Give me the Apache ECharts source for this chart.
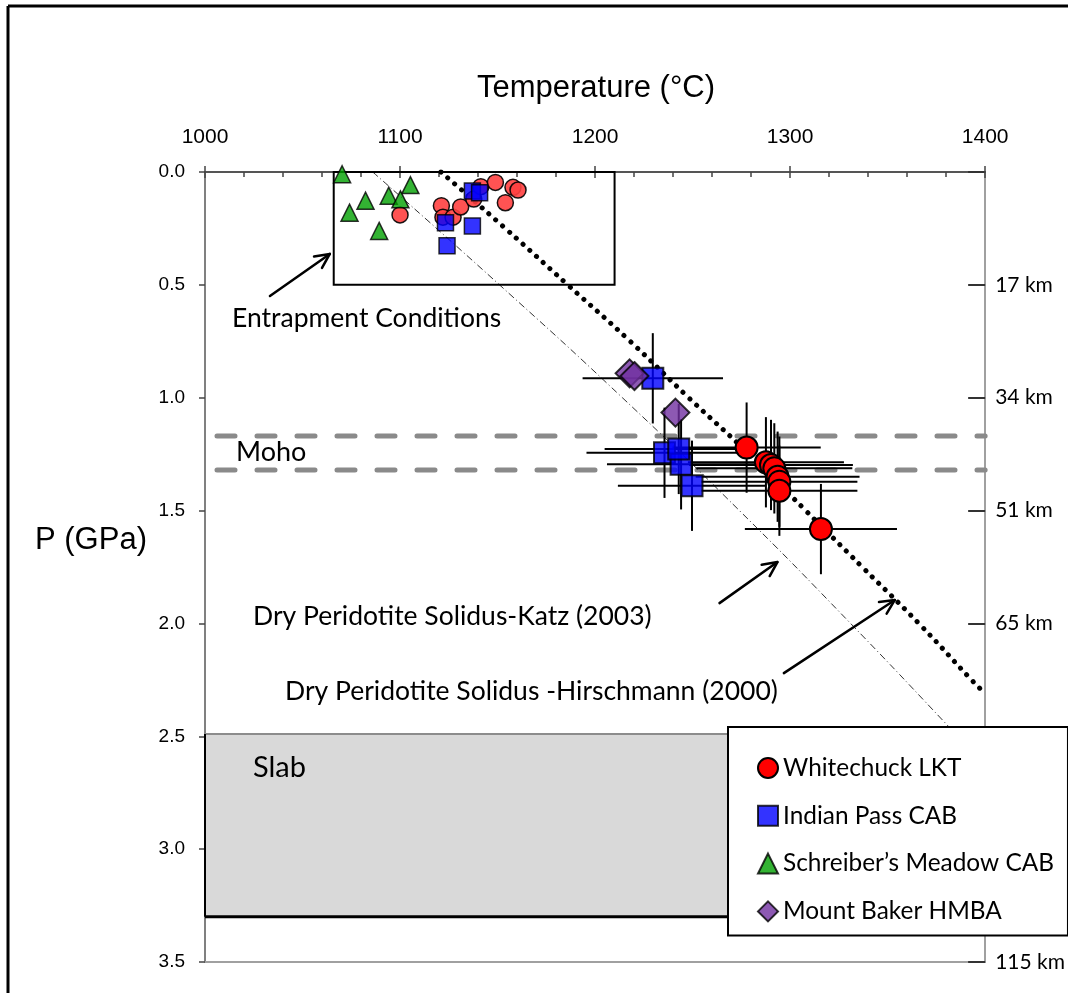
<!DOCTYPE html>
<html><head><meta charset="utf-8">
<script src="https://cdn.jsdelivr.net/npm/echarts@6/dist/echarts.min.js"></script>
<style>html,body{margin:0;padding:0;background:#fff}#c{width:1068px;height:993px}</style>
</head><body><div id="c"></div>
<script>
// ---------- data ----------
const xTicks = [1000, 1100, 1200, 1300, 1400];
const pTicks = [0, 0.5, 1.0, 1.5, 2.0, 2.5, 3.0, 3.5];
const depthP = [0.5, 1.0, 1.5, 2.0, 3.5];
const depthKm = ['17 km', '34 km', '51 km', '65 km', '115 km'];

// Whitechuck LKT (entrapment, shallow)
const whitechuckShallow = [[1100.0,0.19],[1121.2,0.149],[1122.0,0.20],[1127.2,0.20],[1131.1,0.155],[1137.8,0.12],[1141.4,0.065],[1148.9,0.046],[1154.0,0.136],[1157.9,0.068],[1160.5,0.080]];
// Whitechuck LKT (deep)  [T, P]
const whitechuckDeep = [[1277.7,1.221],[1287.6,1.286],[1290.2,1.298],[1291.9,1.313],[1293.6,1.350],[1294.5,1.372],[1294.5,1.412],[1315.8,1.582]];
const whitechuckErr = [[38,0.2],[40,0.2],[42,0.2],[40,0.2],[42,0.2],[40,0.2],[40,0.2],[39,0.2]];
// Indian Pass CAB
const indianShallow = [[1137.1,0.084],[1140.8,0.092],[1123.3,0.225],[1137.1,0.239],[1124.1,0.327]];
const indianDeep = [[1229.6,0.914],[1235.6,1.244],[1244.1,1.295],[1242.9,1.227],[1249.7,1.390]];
const indianErr = [[36,0.2],[40,0.2],[38,0.2],[38,0.2],[38,0.2]];
// Schreiber's Meadow CAB
const schreiber = [[1070.3,0.01],[1105.3,0.058],[1082.3,0.127],[1094.2,0.105],[1100.2,0.121],[1074.1,0.180],[1089.3,0.261]];
// Mount Baker HMBA
const baker = [[1217.7,0.892],[1220.2,0.904],[1241.2,1.066]];

// solidus curves
const hirschP = [0, 0.25, 0.5, 0.75, 1.0, 1.25, 1.5, 1.75, 2.0, 2.25, 2.31];
const hirschT = [1121, 1154, 1186, 1218, 1248, 1279, 1308, 1337, 1366, 1393, 1400];
const katzP = [0, 0.5, 1.0, 1.5, 2.0, 2.5, 2.63];
const katzT = [1086, 1151, 1214, 1274, 1331, 1386, 1400];

const mohoP = [1.17, 1.32];
const entrapBox = [1066, 1210, 0, 0.5];   // Tmin, Tmax, Pmin, Pmax
const slabBox = [1000, 1400, 2.49, 3.30];
// arrows: [T1, P1, T2, P2] (tail -> head)
const arrows = [[1033.3,0.549,1064,0.363],[1263.8,1.91,1293.5,1.728],[1296.8,2.22,1353.7,1.896]];

// ---------- chart ----------
const chart = echarts.init(document.getElementById('c'));
const SANS = '"Liberation Sans", Arial, sans-serif';
const CAL = 'Lato, "Open Sans", sans-serif';

function pairs(ts, ps){ return ts.map((t,i)=>[t, ps[i]]); }
function withErr(pts, err){ return pts.map((p,i)=>[p[0],p[1],err[i][0],err[i][1]]); }

function errRender(params, api){
  const T=api.value(0), P=api.value(1), dT=api.value(2), dP=api.value(3);
  const a=api.coord([T-dT,P]), b=api.coord([T+dT,P]), c=api.coord([T,P-dP]), d=api.coord([T,P+dP]);
  const st={stroke:'#000', lineWidth:2};
  return {type:'group', children:[
    {type:'line', shape:{x1:a[0],y1:a[1],x2:b[0],y2:b[1]}, style:st},
    {type:'line', shape:{x1:c[0],y1:c[1],x2:d[0],y2:d[1]}, style:st}
  ]};
}
function arrowRender(params, api){
  const p1=api.coord([api.value(0),api.value(1)]), p2=api.coord([api.value(2),api.value(3)]);
  const ang=Math.atan2(p2[1]-p1[1], p2[0]-p1[0]);
  const L=16, w=0.45;
  const h1=[p2[0]-L*Math.cos(ang-w), p2[1]-L*Math.sin(ang-w)];
  const h2=[p2[0]-L*Math.cos(ang+w), p2[1]-L*Math.sin(ang+w)];
  const st={stroke:'#000', lineWidth:2.5, lineCap:'round', lineJoin:'round', fill:null};
  return {type:'group', children:[
    {type:'line', shape:{x1:p1[0],y1:p1[1],x2:p2[0],y2:p2[1]}, style:st},
    {type:'polyline', shape:{points:[h1,p2,h2]}, style:st}
  ]};
}
function slabRender(params, api){
  const a=api.coord([api.value(0),api.value(2)]), b=api.coord([api.value(1),api.value(3)]);
  return {type:'group', children:[
    {type:'rect', shape:{x:a[0],y:a[1],width:b[0]-a[0],height:b[1]-a[1]}, style:{fill:'#d9d9d9'}},
    {type:'line', shape:{x1:a[0],y1:a[1],x2:b[0],y2:a[1]}, style:{stroke:'#8c8c8c',lineWidth:2}},
    {type:'line', shape:{x1:a[0],y1:b[1],x2:b[0],y2:b[1]}, style:{stroke:'#000',lineWidth:3}},
    {type:'line', shape:{x1:a[0],y1:a[1],x2:a[0],y2:b[1]}, style:{stroke:'#000',lineWidth:2}}
  ]};
}
function boxRender(params, api){
  const a=api.coord([api.value(0),api.value(2)]), b=api.coord([api.value(1),api.value(3)]);
  return {type:'rect', shape:{x:a[0],y:a[1],width:b[0]-a[0],height:b[1]-a[1]}, style:{fill:null, stroke:'#000', lineWidth:2}};
}

const depthMap = {};
depthP.forEach((p,i)=>{ depthMap[p.toFixed(1)] = depthKm[i]; });

const option = {
  animation:false,
  backgroundColor:'#fff',
  grid:{left:205, top:172, width:781, height:790, containLabel:false},
  xAxis:[
    {type:'value', position:'top', min:xTicks[0], max:xTicks[xTicks.length-1], interval:100,
     axisLine:{show:true, lineStyle:{color:'#555', width:2}},
     axisTick:{show:true, inside:true, length:6, lineStyle:{color:'#444', width:1.5}},
     minorTick:{show:true, splitNumber:5, length:5, lineStyle:{color:'#444', width:1.5}},
     splitLine:{show:false},
     axisLabel:{margin:24, fontSize:21, fontFamily:SANS, color:'#000', formatter:v=>String(v)}},
    {type:'value', position:'top', min:1000, max:1400, interval:100,
     axisLine:{show:false}, axisTick:{show:true, inside:false, length:6, lineStyle:{color:'#444', width:1.5}},
     axisLabel:{show:false}, splitLine:{show:false}},
    {type:'value', position:'bottom', min:1000, max:1400, interval:100,
     axisLine:{show:true, lineStyle:{color:'#a0a0a0', width:2}}, axisTick:{show:false},
     axisLabel:{show:false}, splitLine:{show:false}}
  ],
  yAxis:[
    {type:'value', inverse:true, position:'left', min:pTicks[0], max:pTicks[pTicks.length-1], interval:0.5,
     axisLine:{show:true, lineStyle:{color:'#808080', width:2}},
     axisTick:{show:true, inside:false, length:6, lineStyle:{color:'#444', width:1.5}},
     splitLine:{show:false},
     axisLabel:{margin:20, fontSize:19, fontFamily:SANS, color:'#000', formatter:v=>v.toFixed(1)}},
    {type:'value', inverse:true, position:'right', min:0, max:3.5, interval:0.5,
     axisLine:{show:true, lineStyle:{color:'#a0a0a0', width:2}},
     axisTick:{show:true, inside:true, length:17, lineStyle:{color:'#333', width:2}},
     splitLine:{show:false},
     axisLabel:{margin:10, fontSize:21, fontFamily:CAL, color:'#000', formatter:v=>depthMap[v.toFixed(1)]||''}}
  ],
  legend:{
    orient:'vertical', left:728, top:727,
    data:['Whitechuck LKT','Indian Pass CAB','Schreiber\u2019s Meadow CAB','Mount Baker HMBA'],
    backgroundColor:'#fff', borderColor:'#000', borderWidth:2, borderRadius:0,
    padding:[29,14,12,29], itemGap:23.8, itemWidth:20, itemHeight:20,
    textStyle:{fontFamily:CAL, fontSize:24.4, color:'#000'},
    selectedMode:false
  },
  series:[
    {type:'custom', name:'slab', renderItem:slabRender, data:[slabBox], encode:{x:[0,1], y:[2,3]}, z:1, silent:true},
    {type:'line', name:'moho1', data:[[1000,mohoP[0]],[1400,mohoP[0]]], showSymbol:false, symbol:'none', z:2, silent:true,
     lineStyle:{color:'#8a8a8a', width:5, type:[18,22], cap:'round', dashOffset:-12}},
    {type:'line', name:'moho2', data:[[1000,mohoP[1]],[1400,mohoP[1]]], showSymbol:false, symbol:'none', z:2, silent:true,
     lineStyle:{color:'#8a8a8a', width:5, type:[18,22], cap:'round', dashOffset:-12}},
    {type:'line', name:'katz', data:pairs(katzT,katzP), smooth:true, showSymbol:false, symbol:'none', z:2, silent:true,
     lineStyle:{color:'#333', width:1, type:[7,3,1,3]}},
    {type:'line', name:'hirsch', data:pairs(hirschT,hirschP), smooth:true, showSymbol:false, symbol:'none', z:3, silent:true,
     lineStyle:{color:'#000', width:5, type:[0.1,9], cap:'round'}},
    {type:'custom', name:'box', renderItem:boxRender, data:[entrapBox], encode:{x:[0,1], y:[2,3]}, z:3, silent:true},
    {type:'custom', name:'arrows', renderItem:arrowRender, data:arrows, encode:{x:[0,2], y:[1,3]}, z:3, silent:true},
    {type:'custom', name:'errW', renderItem:errRender, data:withErr(indianDeep,indianErr), encode:{x:0,y:1}, z:4, silent:true},
    {type:'custom', name:'errI', renderItem:errRender, data:withErr(whitechuckDeep,whitechuckErr), encode:{x:0,y:1}, z:4, silent:true},
    {type:'scatter', name:'Whitechuck LKT', data:whitechuckDeep, symbol:'circle', symbolSize:22, z:6,
     itemStyle:{color:'#ff0000', borderColor:'#000', borderWidth:2, opacity:1}},
    {type:'scatter', name:'Whitechuck LKT', data:whitechuckShallow, symbol:'circle', symbolSize:16, z:5,
     itemStyle:{color:'#ff4040', borderColor:'#000', borderWidth:1.5, opacity:0.9}},
    {type:'scatter', name:'Indian Pass CAB', data:indianShallow, symbol:'rect', symbolSize:16, z:5,
     itemStyle:{color:'#0000ff', borderColor:'#000', borderWidth:1.5}},
    {type:'scatter', name:'Indian Pass CAB', data:indianDeep, symbol:'rect', symbolSize:21, z:6,
     itemStyle:{color:'#0000ff', borderColor:'#000', borderWidth:2}},
    {type:'scatter', name:'Schreiber\u2019s Meadow CAB', data:schreiber, symbol:'triangle', symbolSize:17, z:5,
     itemStyle:{color:'#00a000', borderColor:'#000', borderWidth:1.5}},
    {type:'scatter', name:'Mount Baker HMBA', data:baker, symbol:'diamond', symbolSize:28, z:7,
     itemStyle:{color:'#7030a0', borderColor:'#000', borderWidth:2}}
  ],
  graphic:[
    {type:'line', shape:{x1:8,y1:6,x2:1068,y2:6}, style:{stroke:'#000', lineWidth:3}, z:100},
    {type:'line', shape:{x1:8,y1:6,x2:8,y2:993}, style:{stroke:'#000', lineWidth:3}, z:100},
    {type:'text', style:{text:'Temperature (\u00b0C)', x:596, y:88, align:'center', verticalAlign:'middle', font:'31px '+SANS, fill:'#000'}, z:100},
    {type:'text', style:{text:'P (GPa)', x:35, y:540, align:'left', verticalAlign:'middle', font:'31px '+SANS, fill:'#000'}, z:100},
    {type:'text', style:{text:'Entrapment Conditions', x:232, y:318, align:'left', verticalAlign:'middle', font:'26.5px '+CAL, fill:'#000'}, z:100},
    {type:'text', style:{text:'Moho', x:236, y:452, align:'left', verticalAlign:'middle', font:'27px '+CAL, fill:'#000'}, z:100},
    {type:'text', style:{text:'Dry Peridotite Solidus-Katz (2003)', x:253, y:616, align:'left', verticalAlign:'middle', font:'26.5px '+CAL, fill:'#000'}, z:100},
    {type:'text', style:{text:'Dry Peridotite Solidus -Hirschmann (2000)', x:285, y:691, align:'left', verticalAlign:'middle', font:'26.5px '+CAL, fill:'#000'}, z:100},
    {type:'text', style:{text:'Slab', x:253, y:768, align:'left', verticalAlign:'middle', font:'29px '+CAL, fill:'#000'}, z:100}
  ]
};
chart.setOption(option);
</script></body></html>
